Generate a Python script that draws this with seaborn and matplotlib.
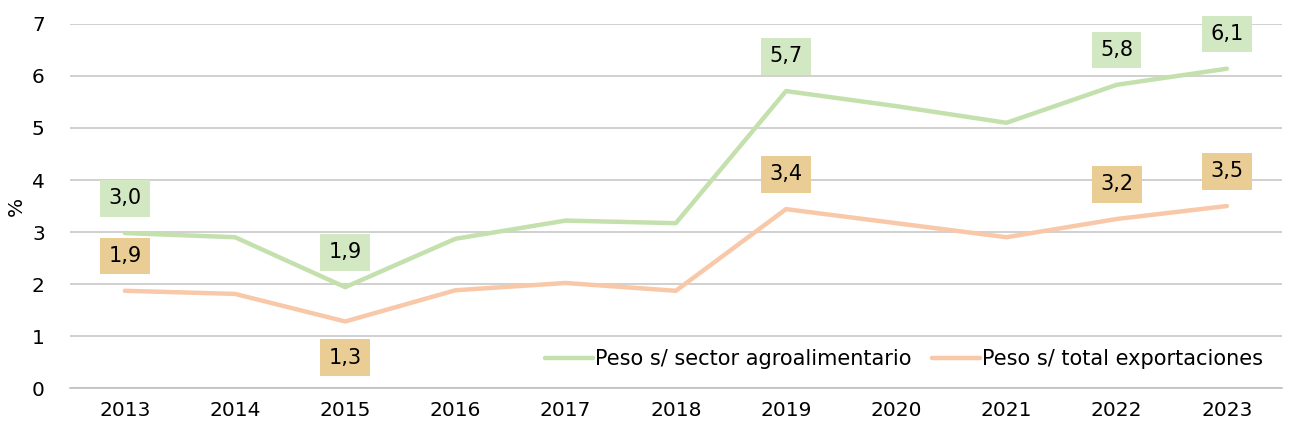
import pandas as pd
import matplotlib.pyplot as plt
import seaborn as sns

years = ["2013", "2014", "2015", "2016", "2017", "2018", "2019", "2020", "2021", "2022", "2023"]
agro = [2.98, 2.90, 1.94, 2.87, 3.22, 3.17, 5.71, 5.42, 5.10, 5.83, 6.14]
total = [1.87, 1.81, 1.28, 1.88, 2.02, 1.87, 3.44, 3.17, 2.90, 3.25, 3.50]
series_names = ["Peso s/ sector agroalimentario", "Peso s/ total exportaciones"]

# which points carry a value label, and where
agro_labels = {0: "3,0", 2: "1,9", 6: "5,7", 9: "5,8", 10: "6,1"}
total_labels = {0: "1,9", 2: "1,3", 6: "3,4", 9: "3,2", 10: "3,5"}
below = {("total", 2)}

df = pd.DataFrame({
    "year": years * 2,
    "value": agro + total,
    "serie": [series_names[0]] * len(years) + [series_names[1]] * len(years),
})

sns.set_style("white")
plt.rcParams['font.family'] = ['DejaVu Sans']
plt.rcParams['text.color'] = "black"

fig = plt.figure(figsize=(12.91, 4.36), dpi=100)
ax = fig.add_axes([0.054, 0.110, 0.939, 0.835])

palette = {series_names[0]: "#c3e0ad", series_names[1]: "#f8c8a8"}
sns.lineplot(data=df, x="year", y="value", hue="serie", palette=palette,
             linewidth=3.2, ax=ax, sort=False, solid_capstyle="round")

ax.set_ylim(0, 7)
ax.set_xlim(-0.5, 10.5)
ax.set_yticks(range(0, 8))
ax.yaxis.grid(True, color="#c8c8c8", linewidth=1.2)
ax.set_axisbelow(True)
for s in ["left", "top", "right"]:
    ax.spines[s].set_visible(False)
ax.spines["bottom"].set_color("#c0c0c0")
ax.spines["bottom"].set_linewidth(1.2)
ax.tick_params(axis="both", length=0, labelsize=14.5, colors="black")
ax.tick_params(axis="y", pad=18)
ax.tick_params(axis="x", pad=9)
ax.set_xlabel("")
ax.set_ylabel("%", fontsize=14.5, color="black", labelpad=4)

for i, txt in agro_labels.items():
    ax.annotate(txt, (i, agro[i]), xytext=(0, 25), textcoords="offset points",
                ha="center", va="center", fontsize=15,
                bbox=dict(boxstyle="square,pad=0.4", fc="#d2e8c2", ec="none"))
for i, txt in total_labels.items():
    off = -26 if ("total", i) in below else 25
    ax.annotate(txt, (i, total[i]), xytext=(0, off), textcoords="offset points",
                ha="center", va="center", fontsize=15,
                bbox=dict(boxstyle="square,pad=0.4", fc="#e9cd95", ec="none"))

leg = ax.legend(loc="lower right", bbox_to_anchor=(1.0, 0.0), ncol=2, frameon=False,
                fontsize=15, handlelength=2.3, columnspacing=1.0, handletextpad=0.1)
for line in leg.get_lines():
    line.set_linewidth(3.2)

fig.savefig("out.png", dpi=100)
